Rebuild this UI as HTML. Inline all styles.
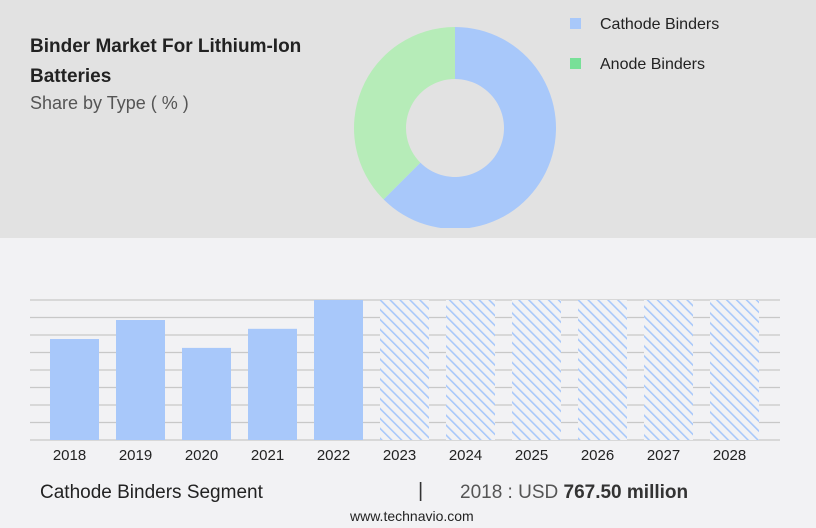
<!DOCTYPE html>
<html><head><meta charset="utf-8">
<style>
body{margin:0;width:816px;height:528px;overflow:hidden;background:#f2f2f4;font-family:"Liberation Sans",sans-serif;position:relative}
.top{position:absolute;left:0;top:0;width:816px;height:238px;background:#e2e2e2}
.t{position:absolute;color:#222}
</style></head><body>
<div class="top"></div>
<div class="t" style="left:30px;top:32px;font-weight:bold;font-size:19px;line-height:30px;width:330px">Binder Market For Lithium-Ion Batteries</div>
<div class="t" style="left:30px;top:93px;font-size:18px;color:#555">Share by Type ( % )</div>
<svg width="816" height="528" style="position:absolute;left:0;top:0" id="svg">
<defs>
<pattern id="hatch" patternUnits="userSpaceOnUse" width="7" height="7" patternTransform="rotate(-45)">
<rect width="7" height="7" fill="#f2f2f4"/><rect x="0" y="0" width="1.6" height="7" fill="#a8c8fa"/>
</pattern>
<clipPath id="topclip"><rect x="0" y="0" width="816" height="228"/></clipPath>
</defs>
<g id="donut" clip-path="url(#topclip)"></g>
<g id="legend">
<rect x="570" y="18" width="11" height="11" fill="#a8c8fa"/>
<text x="600" y="29" font-size="16" fill="#222">Cathode Binders</text>
<rect x="570" y="58" width="11" height="11" fill="#78e098"/>
<text x="600" y="69" font-size="16" fill="#222">Anode Binders</text>
</g>
<g id="grid"></g>
<g id="bars"></g>
<g id="xlabels"></g>
</svg>
<div class="t" style="left:40px;top:482px;font-size:19px">Cathode Binders Segment</div>
<div class="t" style="left:418px;top:480px;font-size:20px;color:#333">|</div>
<div class="t" style="left:460px;top:482px;font-size:19px;color:#555">2018 : USD <b style="color:#333">767.50 million</b></div>
<div class="t" style="left:350px;top:508px;font-size:14px">www.technavio.com</div>
<script>
const segments=['Cathode Binders','Anode Binders'];
const shares=[62.5,37.5];
const segColors=['#a8c8fa','#b6ecb8'];
const years=['2018','2019','2020','2021','2022','2023','2024','2025','2026','2027','2028'];
const values=[767.5,912,700,845,1064];
const axisMax=1064;
const NS='http://www.w3.org/2000/svg';
function mk(t,a,p){const e=document.createElementNS(NS,t);for(const k in a)e.setAttribute(k,a[k]);p.appendChild(e);return e;}
const cx=455,cy=128,R=101,r=49;
const dg=document.getElementById('donut');
let start=0;const tot=shares.reduce((a,b)=>a+b,0);
function pt(rad,ang){return (cx+rad*Math.sin(ang))+','+(cy-rad*Math.cos(ang));}
shares.forEach((s,i)=>{
 const a0=start/tot*2*Math.PI,a1=(start+s)/tot*2*Math.PI;start+=s;
 const big=(a1-a0)>Math.PI?1:0;
 const el=mk('path',{d:`M${pt(R,a0)} A${R},${R} 0 ${big} 1 ${pt(R,a1)} L${pt(r,a1)} A${r},${r} 0 ${big} 0 ${pt(r,a0)}Z`,fill:segColors[i]},dg);
 
 
});
const x0=50,step=66,bw=49,base=440,plotTop=300;
function yScale(v){return base-(v/axisMax)*(base-plotTop);}
const gg=document.getElementById('grid');
for(let i=0;i<=8;i++){const gy=plotTop+i*(base-plotTop)/8;
 const l=mk('line',{x1:30,x2:780,y1:gy,y2:gy,stroke:'#c8c8c8','stroke-width':1.2},gg);
 
 }
const bg=document.getElementById('bars'),xl=document.getElementById('xlabels');
years.forEach((yr,i)=>{
 const bx=x0+i*step;
 let b;
 if(i<values.length){b=mk('rect',{x:bx,y:yScale(values[i]),width:bw,height:base-yScale(values[i]),fill:'#a8c8fa'},bg);}
 else{b=mk('rect',{x:bx,y:plotTop,width:bw,height:base-plotTop,fill:'url(#hatch)'},bg);}
 
 
 const t=mk('text',{x:bx+bw/2-5,y:460,'font-size':15,'text-anchor':'middle',fill:'#222'},xl);
 t.textContent=yr;
 
 
});
</script>
</body></html>
